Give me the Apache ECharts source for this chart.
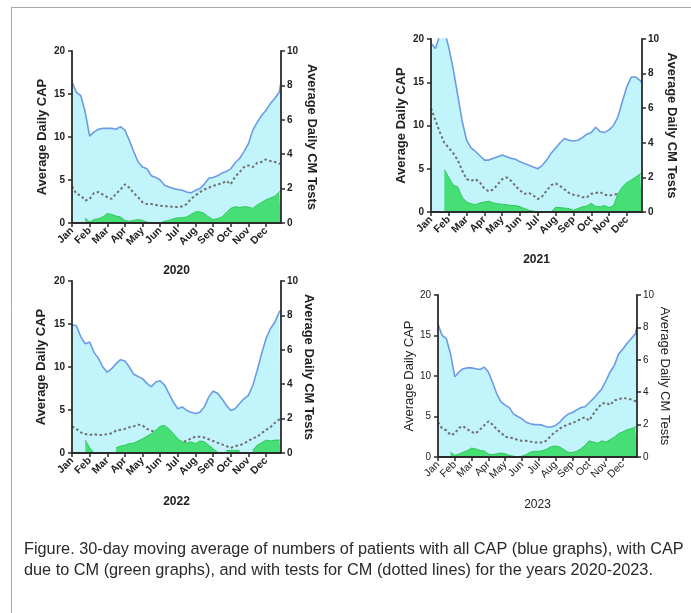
<!DOCTYPE html>
<html><head><meta charset="utf-8">
<script src="https://cdn.jsdelivr.net/npm/echarts@6/dist/echarts.min.js"></script>
<style>html,body{margin:0;padding:0;background:#fff}#c{width:691px;height:613px}</style>
</head><body><div id="c"></div>
<script>
const months = ['Jan','Feb','Mar','Apr','May','Jun','Jul','Aug','Sep','Oct','Nov','Dec'];
const years = ['2020','2021','2022','2023'];
const leftTicks = [0,5,10,15,20];
const rightTicks = [0,2,4,6,8,10];
// x positions in months from Jan 1 (weekly-ish samples)
const xPos = [0,0.25,0.5,0.75,1,1.25,1.5,1.75,2,2.25,2.5,2.75,3,3.25,3.5,3.75,4,4.25,4.5,4.75,5,5.25,5.5,5.75,6,6.25,6.5,6.75,7,7.25,7.5,7.75,8,8.25,8.5,8.75,9,9.25,9.5,9.75,10,10.25,10.5,10.75,11,11.25,11.5,11.75,11.85];

// Average daily CAP (blue, left axis)
const cap2020 = [16.4,15.2,14.8,12.9, 10.1,10.6,10.9,11.0, 11.0,11.0,10.9,11.2, 10.8,9.6,8.3,7.1, 6.5,6.3,5.5,5.3, 5.0,4.4,4.2,4.0, 3.9,3.8,3.6,3.5, 3.8,4.0,4.5,5.2, 5.3,5.5,5.8,6.0, 6.3,7.0,7.5,8.3, 9.2,10.8,11.7,12.5, 13.1,13.9,14.5,15.2, 16.4];
const cap2021 = [19.5,18.9,20.5,21, 19.0,16.5,13.5,10.5, 8.3,7.4,7.0,6.5, 6.0,6.0,6.2,6.4, 6.6,6.4,6.2,6.1, 5.8,5.6,5.4,5.2, 5.0,5.4,6.0,6.8, 7.4,8.0,8.5,8.3, 8.2,8.3,8.6,9.0, 9.2,9.8,9.3,9.2, 9.5,10.0,11.0,12.8, 14.5,15.6,15.6,15.2, 14.9];
const cap2022 = [14.9,14.8,13.5,12.7, 12.9,11.7,11.0,10.0, 9.4,9.8,10.4,10.85, 10.7,10.0,9.15,8.9, 8.65,8.1,7.7,8.25, 8.4,7.9,6.9,5.9, 5.15,5.35,4.95,4.75, 4.6,4.75,5.35,6.5, 7.2,6.95,6.3,5.55, 4.95,5.15,5.75,6.3, 6.7,7.85,9.6,11.55, 13.3,14.45,15.2,16.4, 16.6];
const cap2023 = [16.4,15.0,14.6,12.7, 9.9,10.5,10.9,11.0, 11.0,10.9,10.8,11.1, 10.5,9.2,7.8,6.8, 6.4,6.1,5.3,5.0, 4.7,4.3,4.1,4.0, 4.0,3.9,3.7,3.7, 3.9,4.3,4.9,5.3, 5.5,5.8,6.1,6.2, 6.7,7.2,7.8,8.4, 9.4,10.5,11.3,12.7, 13.3,14.0,14.6,15.2, 16.2];

// Average daily CM tests (dotted, right axis)
const tests2020 = [2.13,1.7,1.6,1.3, 1.4,1.75,1.8,1.65, 1.5,1.4,1.7,1.95, 2.25,2.05,1.75,1.5, 1.2,1.1,1.1,1.05, 1.0,0.97,0.97,0.93, 0.93,0.97,1.1,1.4, 1.6,1.8,1.95,2.05, 2.15,2.25,2.3,2.45, 2.25,2.7,2.95,3.25, 3.35,3.25,3.5,3.55, 3.7,3.6,3.55,3.45, 3.45];
const tests2021 = [6.0,5.3,4.6,4.0, 3.7,3.4,3.0,2.4, 1.9,1.8,1.9,1.7, 1.35,1.2,1.3,1.6, 1.9,2.0,1.8,1.5, 1.25,1.05,1.1,0.95, 0.75,0.9,1.25,1.55, 1.65,1.5,1.3,1.1, 1.0,0.95,0.85,0.85, 1.05,1.1,1.15,1.0, 0.95,1.0,1.05,1.1, 1.2,1.3,1.3,1.3, 1.3];
const tests2022 = [1.55,1.4,1.2,1.1, 1.05,1.1,1.05,1.05, 1.1,1.15,1.3,1.35, 1.4,1.5,1.55,1.65, 1.6,1.4,1.3,1.2, 1.15,1.1,0.95,0.85, 0.7,0.65,0.7,0.85, 0.95,0.95,0.9,0.8, 0.7,0.6,0.5,0.4, 0.3,0.4,0.45,0.55, 0.7,0.85,0.95,1.15, 1.35,1.5,1.75,1.95, 2.0];
const tests2023 = [2.15,1.75,1.65,1.35, 1.45,1.8,1.9,1.7, 1.55,1.45,1.7,1.95, 2.2,2.0,1.7,1.5, 1.25,1.2,1.15,1.05, 1.0,1.0,0.95,0.9, 0.9,0.9,1.05,1.35, 1.55,1.75,1.9,2.0, 2.1,2.2,2.35,2.45, 2.25,2.65,3.0,3.3, 3.35,3.2,3.5,3.55, 3.65,3.6,3.55,3.45, 3.4];

// CAP due to CM (green, left axis); null = no data
const cm2020 = [null,null,null,0.6, 0.1,0.4,0.5,0.7, 1.1,1.0,0.8,0.7, 0.3,0.2,0.3,0.4, 0.3,0.1,0,0, 0,0.2,0.3,0.5, 0.6,0.6,0.7,1.0, 1.3,1.3,1.1,0.7, 0.4,0.5,0.7,1.2, 1.7,1.9,1.8,1.9, 1.85,1.7,2.1,2.4, 2.7,2.9,3.1,3.6, 3.8];
const cm2021 = [null,null,null,4.9, 4.0,3.1,2.9,1.7, 1.15,0.95,0.85,1.05, 1.15,1.25,1.05,0.95, 0.9,0.85,0.75,0.75, 0.6,0.4,0.2,0.1, 0,0,0,0, 0.55,0.5,0.45,0.4, 0.2,0.4,0.6,0.7, 1.0,0.65,0.6,0.75, 0.5,0.75,2.1,2.9, 3.4,3.7,4.05,4.4, 4.4];
const cm2022 = [null,null,null,1.5, 0.6,0,null,null, null,null,0.6,0.8, 0.9,1.1,1.15,1.4, 1.65,1.95,2.25,2.65, 3.1,3.2,2.8,2.25, 1.65,1.3,1.15,1.3, 1.1,1.4,1.3,0.9, 0.5,0.1,null,0.3, 0.3,0.3,0.3,null, null,0.3,0.9,1.2, 1.5,1.4,1.5,1.5, 1.5];
const cm2023 = [null,null,null,0.6, 0.2,0.35,0.6,0.8, 1.1,1.0,0.8,0.75, 0.35,0.3,0.4,0.5, 0.4,0.2,0.1,0, 0.1,0.3,0.6,0.7, 0.7,0.8,1.0,1.3, 1.35,1.25,0.9,0.6, 0.55,0.7,1.0,1.45, 2.0,1.85,1.7,2.0, 1.85,2.15,2.45,2.9, 3.1,3.35,3.5,3.7, 3.9];

const caps = [cap2020, cap2021, cap2022, cap2023];
const tests = [tests2020, tests2021, tests2022, tests2023];
const cms = [cm2020, cm2021, cm2022, cm2023];

const FONT = 'Liberation Sans, Arial, sans-serif';
const layout = [
  {left:72, top:51, width:209, height:172, bold:true, lg:23, rg:24, yg:42},
  {left:431, top:39, width:211, height:173, bold:true, lg:23, rg:23, yg:42},
  {left:72, top:281, width:209, height:172, bold:true, lg:24, rg:21, yg:43},
  {left:438, top:295, width:199, height:162, bold:false, lg:22, rg:15, yg:42}
];

const grid = [], xAxis = [], yAxis = [], series = [];
const axisLine = {show:true, onZero:false, lineStyle:{color:'#2b2b2b', width:1.8}};
const axisTick = {show:true, length:4, lineStyle:{color:'#2b2b2b', width:1.5}};
const pairs = (ys) => xPos.map((x, i) => [x, ys[i] == null ? '-' : ys[i]]);

layout.forEach((L, i) => {
  const fw = L.bold ? 'bold' : 'normal';
  grid.push({left:L.left, top:L.top, width:L.width, height:L.height, containLabel:false});
  xAxis.push({
    type:'value', gridIndex:i, min:0, max:11.85, interval:1, z:10,
    name: years[i], nameLocation:'middle', nameGap:L.yg,
    nameTextStyle:{fontFamily:FONT, fontSize:12, fontWeight:fw, color:'#222'},
    axisLine, axisTick, splitLine:{show:false},
    axisLabel:{rotate:45, margin:6, fontFamily:FONT, fontSize:10.5, fontWeight:fw, color:'#222',
      showMaxLabel:false,
      formatter:(v) => Number.isInteger(v) && v < 12 ? months[v] : ''}
  });
  yAxis.push({
    type:'value', gridIndex:i, position:'left', min:leftTicks[0], max:leftTicks[leftTicks.length-1],
    interval:leftTicks[1]-leftTicks[0], z:10,
    name:'Average Daily CAP', nameLocation:'middle', nameGap:L.lg,
    nameTextStyle:{fontFamily:FONT, fontSize:13, fontWeight:fw, color:'#222'},
    axisLine, axisTick, splitLine:{show:false},
    axisLabel:{margin:7, fontFamily:FONT, fontSize:10, fontWeight:fw, color:'#222'}
  });
  yAxis.push({
    type:'value', gridIndex:i, position:'right', min:rightTicks[0], max:rightTicks[rightTicks.length-1],
    interval:rightTicks[1]-rightTicks[0], z:10,
    name:'Average Daily CM Tests', nameLocation:'middle', nameGap:L.rg, nameRotate:-90,
    nameTextStyle:{fontFamily:FONT, fontSize:13, fontWeight:fw, color:'#222'},
    axisLine, axisTick, splitLine:{show:false},
    axisLabel:{margin:6, fontFamily:FONT, fontSize:10, fontWeight:fw, color:'#222'}
  });
  series.push({
    type:'line', xAxisIndex:i, yAxisIndex:2*i, data:pairs(caps[i]), showSymbol:false, z:2,
    lineStyle:{color:'#6b9be8', width:1.6}, areaStyle:{color:'#c2f4fb', opacity:1}, clip:true
  });
  series.push({
    type:'line', xAxisIndex:i, yAxisIndex:2*i+1, data:pairs(tests[i]), showSymbol:false, z:3,
    lineStyle:{color:'#6f6f6f', width:2, type:[2.5,2.5]}, clip:true
  });
  series.push({
    type:'line', xAxisIndex:i, yAxisIndex:2*i, data:pairs(cms[i]), showSymbol:false, z:4,
    connectNulls:false,
    lineStyle:{color:'#2fc95a', width:1}, areaStyle:{color:'#45df76', opacity:1}, clip:true
  });
});

const chart = echarts.init(document.getElementById('c'), null, {renderer:'canvas'});
chart.setOption({
  animation:false,
  backgroundColor:'#ffffff',
  grid, xAxis, yAxis, series,
  graphic:[
    {type:'line', shape:{x1:11, y1:7.5, x2:691, y2:7.5}, style:{stroke:'#a8a8a8', lineWidth:1}, silent:true},
    {type:'line', shape:{x1:11.5, y1:7.5, x2:11.5, y2:613}, style:{stroke:'#a8a8a8', lineWidth:1}, silent:true},
    {type:'text', left:24, top:542, silent:true,
      style:{text:'Figure. 30-day moving average of numbers of patients with all CAP (blue graphs), with CAP', font:'16.3px ' + FONT, fill:'#2a2a2a'}},
    {type:'text', left:24, top:563, silent:true,
      style:{text:'due to CM (green graphs), and with tests for CM (dotted lines) for the years 2020-2023.', font:'16.3px ' + FONT, fill:'#2a2a2a'}}
  ]
});
</script>
</body></html>
